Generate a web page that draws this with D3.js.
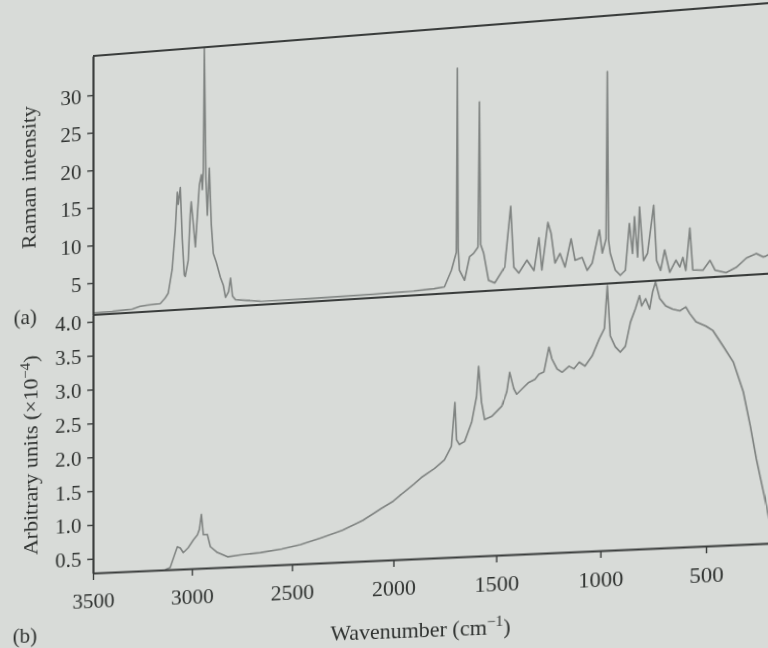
<!DOCTYPE html>
<html>
<head>
<meta charset="utf-8">
<script src="https://cdn.jsdelivr.net/npm/d3@7"></script>
<style>
  html, body { margin: 0; padding: 0; width: 768px; height: 648px; overflow: hidden; background: #d8dbd8; }
  svg { position: absolute; left: 0; top: 0; transform-origin: 0 0; }
  text { font-family: "Liberation Serif", "DejaVu Serif", serif; font-size: 22px; fill: #2f3230; }
</style>
</head>
<body>
<script>
// (a) Raman spectrum
var ramanWn = [3500, 3400, 3300, 3261, 3225, 3159, 3134, 3119, 3099, 3083, 3073, 3068, 3058, 3048, 3038, 3033,
  3018, 3008, 3003, 2992, 2982, 2972, 2962, 2952, 2947, 2942, 2937, 2929, 2922, 2912, 2902, 2892, 2877,
  2857, 2842, 2831, 2816, 2806, 2796, 2781, 2656, 2400, 2100, 1900, 1800, 1751, 1717, 1693, 1688, 1684,
  1678, 1653, 1629, 1610, 1588, 1581, 1575, 1561, 1537, 1507, 1459, 1430, 1415, 1391, 1352, 1318, 1294,
  1280, 1251, 1236, 1217, 1193, 1169, 1140, 1121, 1087, 1063, 1039, 1005, 991, 973, 967, 961, 953, 929,
  905, 881, 862, 847, 838, 823, 814, 795, 776, 747, 733, 714, 695, 671, 642, 623, 609, 595, 576, 562,
  514, 481, 457, 406, 358, 311, 264, 231, 193, 160];
var ramanVal = [1.0, 1.05, 1.2, 1.5, 1.6, 1.7, 2.4, 3.0, 6.1, 11.4, 16.3, 14.7, 16.9, 10.0, 5.3, 5.1,
  7.2, 13.2, 14.9, 11.8, 8.9, 13.1, 17.1, 18.4, 16.4, 19.0, 35.0, 17.7, 13.0, 19.2, 11.7, 7.9, 6.7,
  4.7, 3.6, 2.0, 2.7, 4.5, 2.1, 1.6, 1.2, 1.15, 1.2, 1.3, 1.45, 1.6, 3.7, 6.0, 29.9, 6.5,
  3.65, 2.3, 5.3, 5.7, 6.5, 25.3, 6.8, 5.7, 2.1, 1.7, 3.7, 11.5, 3.6, 2.8, 4.4, 3.0, 7.2,
  3.0, 9.1, 7.7, 3.8, 5.0, 3.2, 6.8, 4.0, 4.3, 2.6, 3.5, 7.7, 4.7, 6.5, 28.0, 6.3, 4.6, 2.4,
  1.7, 2.3, 8.3, 4.4, 9.1, 3.9, 10.3, 3.4, 4.3, 10.4, 3.3, 2.0, 4.6, 1.7, 3.2, 2.3, 3.5, 1.8, 7.2, 1.8,
  1.7, 2.9, 1.6, 1.2, 1.8, 2.9, 3.4, 2.9, 3.3, 3.0];

// (b) background spectrum (x10^-4)
var baseWn = [3134, 3109, 3073, 3058, 3043, 3018, 2992, 2972, 2962, 2952, 2942, 2922, 2907, 2872, 2821,
  2756, 2656, 2550, 2457, 2350, 2250, 2150, 2060, 2000, 1962, 1900, 1864, 1800, 1751, 1717, 1700, 1692,
  1678, 1653, 1619, 1595, 1585, 1571, 1556, 1522, 1473, 1449, 1435, 1415, 1401, 1376, 1343, 1313, 1294,
  1270, 1246, 1232, 1207, 1183, 1150, 1126, 1101, 1073, 1039, 1005, 981, 967, 953, 929, 905, 881, 857,
  833, 814, 804, 785, 766, 752, 738, 718, 690, 657, 623, 595, 576, 547, 500, 467, 419, 372, 325, 292,
  264, 231, 207, 193, 160];
var baseVal = [0.29, 0.32, 0.62, 0.60, 0.53, 0.60, 0.71, 0.78, 0.86, 1.08, 0.78, 0.78, 0.60, 0.51, 0.44,
  0.46, 0.48, 0.52, 0.57, 0.66, 0.75, 0.88, 1.04, 1.14, 1.23, 1.37, 1.46, 1.58, 1.70, 1.89, 2.52, 1.98,
  1.91, 1.95, 2.22, 2.59, 3.02, 2.50, 2.25, 2.29, 2.43, 2.63, 2.91, 2.67, 2.59, 2.66, 2.75, 2.79, 2.86,
  2.89, 3.24, 3.07, 2.92, 2.87, 2.95, 2.91, 3.00, 2.94, 3.08, 3.32, 3.46, 4.07, 3.35, 3.19, 3.11, 3.19, 3.53,
  3.72, 3.90, 3.75, 3.85, 3.70, 3.94, 4.08, 3.84, 3.73, 3.68, 3.65, 3.70, 3.60, 3.48, 3.41, 3.34, 3.11, 2.88, 2.45, 1.96,
  1.49, 1.02, 0.67, 0.53, 0.29];

var xTicks = [3500, 3000, 2500, 2000, 1500, 1000, 500];
var yTicksA = [5, 10, 15, 20, 25, 30];
var yTicksB = [0.5, 1.0, 1.5, 2.0, 2.5, 3.0, 3.5, 4.0];

// layout (flat chart, before the photo perspective)
var plotLeft = 93, plotTop = 56, plotMid = 315, plotBottom = 573;
var W = 820, H = 700;

var x = d3.scaleLinear().domain([3500, 500]).range([plotLeft, 706]);
var xEnd = 150;
var yA = d3.scaleLinear().domain([0.74, 35.2]).range([plotMid, plotTop]);
var yB = d3.scaleLinear().domain([0.29, 4.10]).range([plotBottom, plotMid]);

var svg = d3.select('body').append('svg')
    .attr('width', W)
    .attr('height', H)

// curves
var lineA = d3.line()
  .x(function (d) { return x(d[0]) })
  .y(function (d) { return yA(d[1]) })
var lineB = d3.line()
  .x(function (d) { return x(d[0]) })
  .y(function (d) { return yB(d[1]) })

svg.append('path')
    .datum(d3.zip(ramanWn, ramanVal))
    .attr('d', lineA)
    .attr('fill', 'none')
    .attr('stroke', '#7f8381')
    .attr('stroke-width', 1.6)
    .attr('stroke-linejoin', 'round')

svg.append('path')
    .datum(d3.zip(baseWn, baseVal))
    .attr('d', lineB)
    .attr('fill', 'none')
    .attr('stroke', '#7f8381')
    .attr('stroke-width', 1.6)
    .attr('stroke-linejoin', 'round')

// frame lines
var frame = '#3a3d3c'
svg.append('line')
    .attr('x1', plotLeft).attr('x2', x(xEnd))
    .attr('y1', plotTop).attr('y2', plotTop)
    .attr('stroke', frame).attr('stroke-width', 2.2)
svg.append('line')
    .attr('x1', plotLeft).attr('x2', x(xEnd))
    .attr('y1', plotMid).attr('y2', plotMid)
    .attr('stroke', frame).attr('stroke-width', 2.2)

// Y axes
svg.append('g')
    .attr('transform', 'translate(' + plotLeft + ',0)')
    .style('color', frame)
    .call(d3.axisLeft(yA).tickValues(yTicksA).tickSize(6).tickPadding(6).tickSizeOuter(0))
svg.append('g')
    .attr('transform', 'translate(' + plotLeft + ',0)')
    .style('color', frame)
    .call(d3.axisLeft(yB).tickValues(yTicksB).tickFormat(d3.format('.1f')).tickSize(6).tickPadding(6).tickSizeOuter(0))

// X axis
svg.append('g')
    .attr('transform', 'translate(0,' + plotBottom + ')')
    .style('color', frame)
    .call(d3.axisBottom(x.copy().domain([3500, xEnd]).range([plotLeft, x(xEnd)]))
      .tickValues(xTicks).tickSize(7).tickPadding(12).tickSizeOuter(0).tickFormat(d3.format('d')))

svg.selectAll('.domain').attr('stroke-width', 2.2)
svg.selectAll('.tick line').attr('stroke-width', 1.4)
svg.selectAll('.tick text').attr('font-size', null).attr('font-family', null)

// labels
svg.append('text')
    .attr('transform', 'translate(33,173) rotate(-90)')
    .attr('text-anchor', 'middle')
    .text('Raman intensity')

var yl = svg.append('text')
    .attr('transform', 'translate(35,452) rotate(-90)')
    .attr('text-anchor', 'middle')
yl.append('tspan').text('Arbitrary units (\u00d710')
yl.append('tspan').attr('dy', -8).style('font-size', '15px').text('\u22124')
yl.append('tspan').attr('dy', 8).text(')')

var xl = svg.append('text')
    .attr('x', 426)
    .attr('y', 650)
    .attr('text-anchor', 'middle')
xl.append('tspan').text('Wavenumber (cm')
xl.append('tspan').attr('dy', -8).style('font-size', '15px').text('\u22121')
xl.append('tspan').attr('dy', 8).text(')')

svg.append('text').attr('x', 10).attr('y', 320).text('(a)')
svg.append('text').attr('x', 9).attr('y', 640).text('(b)')

// photo perspective: map the flat frame corners onto the ones seen in the picture
function solve(A, b) {
  var n = b.length
  for (var i = 0; i < n; i++) A[i].push(b[i])
  for (var c = 0; c < n; c++) {
    var p = c
    for (var r = c + 1; r < n; r++) if (Math.abs(A[r][c]) > Math.abs(A[p][c])) p = r
    var tmp = A[c]; A[c] = A[p]; A[p] = tmp
    for (var r = 0; r < n; r++) {
      if (r === c) continue
      var f = A[r][c] / A[c][c]
      for (var k = c; k <= n; k++) A[r][k] -= f * A[c][k]
    }
  }
  return A.map(function (row, i) { return row[n] / row[i] })
}
function homography(src, dst) {
  var A = [], b = []
  for (var i = 0; i < 4; i++) {
    var sx = src[i][0], sy = src[i][1], dx = dst[i][0], dy = dst[i][1]
    A.push([sx, sy, 1, 0, 0, 0, -dx * sx, -dx * sy]); b.push(dx)
    A.push([0, 0, 0, sx, sy, 1, -dy * sx, -dy * sy]); b.push(dy)
  }
  return solve(A, b)
}
var xr = x(500)
var h = homography(
  [[plotLeft, plotTop], [plotLeft, plotBottom], [xr, plotTop], [xr, plotBottom]],
  [[plotLeft, 56], [plotLeft, 573], [xr, 8], [xr, 546]])
svg.style('transform', 'matrix3d(' + [h[0], h[3], 0, h[6], h[1], h[4], 0, h[7], 0, 0, 1, 0, h[2], h[5], 0, 1].join(',') + ')')
</script>
</body>
</html>
